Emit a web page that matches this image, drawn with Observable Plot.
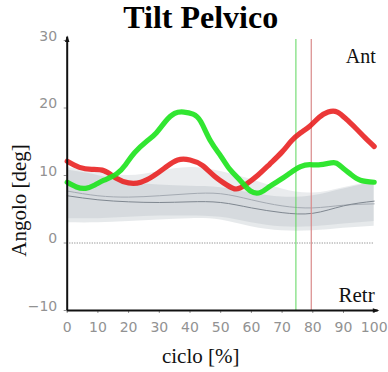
<!DOCTYPE html>
<html>
<head>
<meta charset="utf-8">
<script src="https://cdn.jsdelivr.net/npm/d3@7"></script>
<script src="https://cdn.jsdelivr.net/npm/@observablehq/plot@0.6"></script>
<style>
  body { margin: 0; background: #fff; }
  #chart svg { display: block; }
</style>
</head>
<body>
<div id="chart"></div>
<script>
// Pelvic tilt over the gait cycle (degrees), left (red) and right (green) side,
// against two normative corridors (mean ± SD).

// Red side
const redX = [0, 4, 8, 12, 16, 20, 24, 28, 32, 36, 40, 44, 48, 52, 55, 58, 62, 66, 70, 73, 76, 79, 82, 85, 88, 91, 94, 97, 100];
const redY = [12.1, 11.2, 10.9, 10.7, 9.6, 8.9, 9.0, 9.9, 11.2, 12.3, 12.3, 11.5, 9.9, 8.6, 8.0, 8.6, 10.0, 11.7, 13.5, 15.1, 16.3, 17.3, 18.6, 19.4, 19.4, 18.3, 17.0, 15.6, 14.3];

// Green side
const greenX = [0, 3, 6, 9, 12, 16, 19, 22, 26, 29, 32, 35, 38, 41, 43.5, 46.7, 50, 53, 56.5, 59.7, 63, 66, 69.5, 72.7, 76, 79, 82.5, 86.8, 89, 92.3, 95.5, 100];
const greenY = [9.0, 8.3, 8.1, 8.6, 9.3, 10.2, 11.6, 13.4, 15.1, 16.3, 18.0, 19.2, 19.4, 19.1, 18.0, 15.1, 12.9, 10.9, 9.2, 7.7, 7.5, 8.4, 9.4, 10.4, 11.3, 11.6, 11.6, 11.9, 11.4, 10.2, 9.3, 9.0];

// Toe-off events (% of cycle)
const toeOffGreen = 74.5;
const toeOffRed = 79.5;

// Normative corridors
const normX  = [0, 10, 20, 30, 40, 50, 60, 70, 80, 90, 100];
const upperA = [11.2, 10.5, 10.0, 10.6, 11.2, 10.6, 9.4, 8.0, 7.4, 8.2, 9.1];
const lowerA = [3.6, 3.6, 3.8, 4.0, 4.0, 3.8, 3.0, 2.4, 2.4, 2.8, 3.2];
const meanA  = [7.7, 7.0, 6.8, 7.0, 7.3, 7.3, 6.4, 5.5, 5.2, 5.6, 5.8];
const upperB = [10.8, 10.0, 9.0, 8.6, 8.4, 8.2, 7.4, 6.8, 7.0, 8.0, 9.0];
const lowerB = [3.0, 3.0, 3.2, 3.4, 3.6, 3.4, 2.4, 1.8, 1.8, 2.2, 2.5];
const meanB  = [7.0, 6.4, 6.1, 6.0, 6.1, 6.0, 5.2, 4.5, 4.4, 5.5, 6.2];

// Axes
const xTicks = [0, 10, 20, 30, 40, 50, 60, 70, 80, 90, 100];
const yTicks = [-10, 0, 10, 20, 30];
const xDomain = [0, 100];
const yDomain = [-10, 30];

const title = "Tilt Pelvico";
const xLabel = "ciclo [%]";
const yLabel = "Angolo [deg]";
const topNote = "Ant";
const bottomNote = "Retr";

const red = redX.map((x, i) => ({x, y: redY[i]}));
const green = greenX.map((x, i) => ({x, y: greenY[i]}));
const bandA = normX.map((x, i) => ({x, lo: lowerA[i], hi: upperA[i], m: meanA[i]}));
const bandB = normX.map((x, i) => ({x, lo: lowerB[i], hi: upperB[i], m: meanB[i]}));

// Small filled arrowheads whose tip sits on the anchor point
const arrowHead = {
  draw(ctx, size) {
    const r = Math.sqrt(size / Math.PI);
    ctx.moveTo(0, 0);
    ctx.lineTo(-0.75 * r, 2.2 * r);
    ctx.lineTo(0.75 * r, 2.2 * r);
    ctx.closePath();
  }
};
const arrowRight = {
  draw(ctx, size) {
    const r = Math.sqrt(size / Math.PI);
    ctx.moveTo(0, 0);
    ctx.lineTo(-2.2 * r, -0.75 * r);
    ctx.lineTo(-2.2 * r, 0.75 * r);
    ctx.closePath();
  }
};

const serif = "'Liberation Serif', 'Times New Roman', serif";
const sans = "'DejaVu Sans', sans-serif";
const minus = d => (d < 0 ? "\u2212" + Math.abs(d) : String(d));

const chart = Plot.plot({
  width: 388,
  height: 372,
  marginLeft: 66.7,
  marginRight: 14.3,
  marginTop: 40,
  marginBottom: 62,
  x: {domain: xDomain},
  y: {domain: yDomain},
  style: {background: "#fff", overflow: "visible"},
  marks: [
    // normative corridors
    Plot.areaY(bandA, {x: "x", y1: "lo", y2: "hi", fill: "#98a1ab", fillOpacity: 0.2, curve: "natural"}),
    Plot.areaY(bandB, {x: "x", y1: "lo", y2: "hi", fill: "#98a1ab", fillOpacity: 0.24, curve: "natural"}),
    Plot.line(bandA, {x: "x", y: "m", stroke: "#a4aab2", strokeWidth: 1, curve: "natural"}),
    Plot.line(bandB, {x: "x", y: "m", stroke: "#7f8790", strokeWidth: 1, curve: "natural"}),

    // zero reference
    Plot.ruleY([0], {x1: xDomain[0], x2: xDomain[1], stroke: "#8c8c8c", strokeWidth: 1, strokeDasharray: "1.2,1.3"}),

    // toe-off markers
    Plot.ruleX([toeOffGreen], {y1: yDomain[0], y2: yDomain[1] + 0.15, stroke: "#5cd65c", strokeWidth: 1}),
    Plot.ruleX([toeOffRed], {y1: yDomain[0], y2: yDomain[1] + 0.15, stroke: "#d98a8a", strokeWidth: 1.2}),

    // subject curves
    Plot.line(red, {x: "x", y: "y", stroke: "#e81c1c", strokeWidth: 5.2, strokeOpacity: 0.88, curve: "natural"}),
    Plot.line(green, {x: "x", y: "y", stroke: "#1fe41f", strokeWidth: 5.2, strokeOpacity: 0.92, curve: "natural"}),

    // tick labels
    Plot.axisX({ticks: xTicks, tickSize: 3, tickPadding: 8.5, fontSize: 14, fontFamily: sans, color: "#929292", label: null}),
    Plot.axisY({ticks: yTicks, tickSize: 3, tickPadding: 7, fontSize: 14, fontFamily: sans, color: "#929292", label: null, lineAnchor: "bottom", tickFormat: minus}),

    // axis lines with arrowheads
    Plot.ruleX([xDomain[0]], {y1: yDomain[0], y2: yDomain[1] + 0.5, stroke: "#111", strokeWidth: 2}),
    Plot.ruleY([yDomain[0]], {x1: xDomain[0], x2: xDomain[1] + 1.3, stroke: "#111", strokeWidth: 2}),
    Plot.dot([xDomain[0]], {x: d => d, y: yDomain[1] + 0.75, symbol: arrowHead, r: 3, fill: "#111", stroke: "none"}),
    Plot.dot([yDomain[0]], {x: xDomain[1] + 1.7, y: d => d, symbol: arrowRight, r: 3, fill: "#111", stroke: "none"}),

    // annotations
    Plot.text([topNote], {frameAnchor: "top-right", text: d => d, dx: 1.5, dy: 22, textAnchor: "end", lineAnchor: "bottom", fontSize: 20, fontFamily: serif, fill: "#111"}),
    Plot.text([bottomNote], {frameAnchor: "bottom-right", text: d => d, dx: 0.5, dy: -9, textAnchor: "end", lineAnchor: "bottom", fontSize: 21, fontFamily: serif, fill: "#111"}),

    // titles
    Plot.text([title], {frameAnchor: "top", text: d => d, dx: -20, dy: -13, textAnchor: "middle", lineAnchor: "bottom", fontSize: 32, fontWeight: "bold", fontFamily: serif, fill: "#000"}),
    Plot.text([xLabel], {frameAnchor: "bottom", text: d => d, dx: -20, dy: 52, textAnchor: "middle", lineAnchor: "bottom", fontSize: 21, fontFamily: serif, fill: "#111"}),
    Plot.text([yLabel], {frameAnchor: "left", text: d => d, dx: -41, dy: 25, rotate: -90, textAnchor: "middle", lineAnchor: "bottom", fontSize: 21, fontFamily: serif, fill: "#111"})
  ]
});

document.getElementById("chart").append(chart);
</script>
</body>
</html>
